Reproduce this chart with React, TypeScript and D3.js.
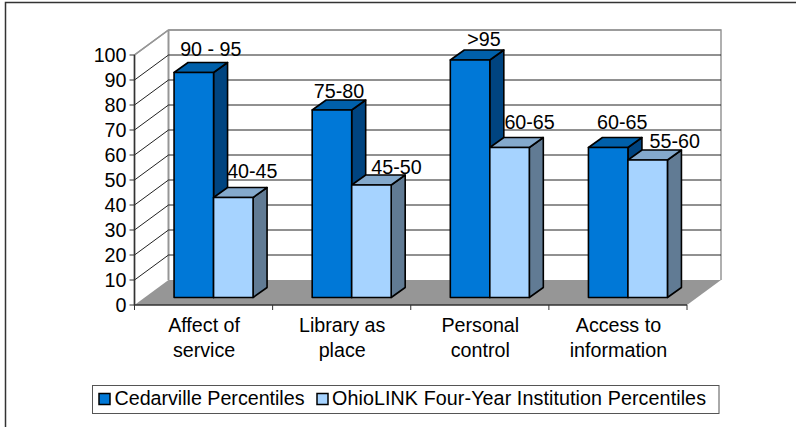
import React from "react";
import * as d3 from "d3";

const categories = [["Affect of", "service"], ["Library as", "place"], ["Personal", "control"], ["Access to", "information"]];
const cedarville = [90, 75, 95, 60];
const ohiolink = [40, 45, 60, 55];
const cedarLabels = ["90 - 95", "75-80", ">95", "60-65"];
const ohioLabels = ["40-45", "45-50", "60-65", "55-60"];
const yTicks = d3.range(0, 101, 10);
const seriesNames = ["Cedarville Percentiles", "OhioLINK Four-Year Institution Percentiles"];

const W = 796, H = 427;
const x0 = 134.5, x1 = 687, yB = 305, yT = 55;
const dx = 34, dy = -25;
const y = d3.scaleLinear().domain([0, 100]).range([yB, yT]);
const band = d3.scaleBand<number>().domain([0, 1, 2, 3]).range([x0, x1]);
const font = "'Liberation Sans', Arial, sans-serif";
const fs = 19.7;
const barW = 39.5, bdx = 14, bdy = -10, shiftX = 10, shiftY = -7.5;

// label nudges, measured from the bar's front-top corner
const cedarNudge = [[-3, -17], [-13, -12], [-6, -14], [-6, -19]];
const ohioNudge = [[19, -20], [25, -11], [20, -19], [27, -12]];

const palette = {
  a: { front: "#0078d7", top: "#0060aa", side: "#004480" },
  b: { front: "#a6d3ff", top: "#84a9cc", side: "#617b94" },
};

function Bar({ left, v, c }: { left: number; v: number; c: { front: string; top: string; side: string } }) {
  const t = y(v) + shiftY, b = yB + shiftY, r = left + barW;
  return (
    <g stroke="#000" strokeWidth={1.6} strokeLinejoin="round">
      <path d={`M${r},${t}L${r + bdx},${t + bdy}V${b + bdy}L${r},${b}Z`} fill={c.side} />
      <path d={`M${left},${t}L${left + bdx},${t + bdy}H${r + bdx}L${r},${t}Z`} fill={c.top} />
      <rect x={left} y={t} width={barW} height={b - t} fill={c.front} />
    </g>
  );
}

export default function App() {
  return (
    <svg width={W} height={H} style={{ position: "absolute", left: 0, top: 0 }} fontFamily={font} fill="#000">
      <rect width={W} height={H} fill="#fff" />
      <path d={`M5.5,${H}V2.5H${W}`} fill="none" stroke="#333" strokeWidth={1.5} />
      {/* walls */}
      <path d={`M${x0},${yB}V${yT}L${x0 + dx},${yT + dy}H${x1 + dx}V${yB + dy}`} fill="none" stroke="#969696" strokeWidth={1.5} />
      <path d={`M${x0 + dx},${yT + dy}V${yB + dy}`} stroke="#969696" strokeWidth={2} fill="none" />
      {/* gridlines */}
      {yTicks.filter((t) => t > 0 && t < 100).map((t) => (
        <path key={t} d={`M${x0},${y(t)}L${x0 + dx},${y(t) + dy}H${x1 + dx}`} fill="none" stroke="#222" strokeWidth={1} />
      ))}
      <path d={`M${x0 + dx},${y(100) + dy}H${x1 + dx}`} stroke="#969696" strokeWidth={1.5} />
      <path d={`M${x0},${y(100)}L${x0 + dx},${y(100) + dy}`} stroke="#969696" strokeWidth={1.5} />
      {/* floor */}
      <path d={`M${x0},${yB}L${x0 + dx},${yB + dy}H${x1 + dx}L${x1},${yB}Z`} fill="#969696" />
      {/* axes */}
      <path d={`M${x0},${yT}V${yB}H${x1}`} fill="none" stroke="#333" strokeWidth={1.5} />
      {yTicks.map((t) => (
        <g key={t}>
          <path d={`M${x0 - 5},${y(t)}H${x0}`} stroke="#333" />
          <text x={x0 - 8} y={y(t) + 7} textAnchor="end" fontSize={fs}>{t}</text>
        </g>
      ))}
      {[0, 1, 2, 3].map((i) => (
        <path key={i} d={`M${band(i)! + band.bandwidth()},${yB}v5`} stroke="#333" />
      ))}
      <path d={`M${x0},${yB}v5`} stroke="#333" />
      {/* bars */}
      {categories.map((_, i) => {
        const c = band(i)! + band.bandwidth() / 2 + shiftX;
        return (
          <g key={i}>
            <Bar left={c - barW} v={cedarville[i]} c={palette.a} />
            <Bar left={c} v={ohiolink[i]} c={palette.b} />
          </g>
        );
      })}
      {/* value labels */}
      {categories.map((_, i) => {
        const c = band(i)! + band.bandwidth() / 2 + shiftX;
        return (
          <g key={i} fontSize={fs} textAnchor="middle">
            <text x={c - barW / 2 + cedarNudge[i][0] + 20} y={y(cedarville[i]) + shiftY + cedarNudge[i][1]}>{cedarLabels[i]}</text>
            <text x={c + barW / 2 + ohioNudge[i][0]} y={y(ohiolink[i]) + shiftY + ohioNudge[i][1]}>{ohioLabels[i]}</text>
          </g>
        );
      })}
      {/* category labels */}
      {categories.map((lines, i) => (
        <text key={i} textAnchor="middle" fontSize={fs}>
          {lines.map((l, j) => (
            <tspan key={j} x={band(i)! + band.bandwidth() / 2 + 0.5} y={332 + j * 25}>{l}</tspan>
          ))}
        </text>
      ))}
      {/* legend */}
      <rect x={92.5} y={385.5} width={626.5} height={28} fill="#fff" stroke="#555" strokeWidth={1} />
      <rect x={99} y={393.5} width={11} height={11} fill={palette.a.front} stroke="#000" strokeWidth={1.5} />
      <text x={114.5} y={405} fontSize={fs} textLength={190}>{seriesNames[0]}</text>
      <rect x={317} y={393.5} width={11} height={11} fill={palette.b.front} stroke="#000" strokeWidth={1.5} />
      <text x={332} y={405} fontSize={fs} textLength={374}>{seriesNames[1]}</text>
    </svg>
  );
}
